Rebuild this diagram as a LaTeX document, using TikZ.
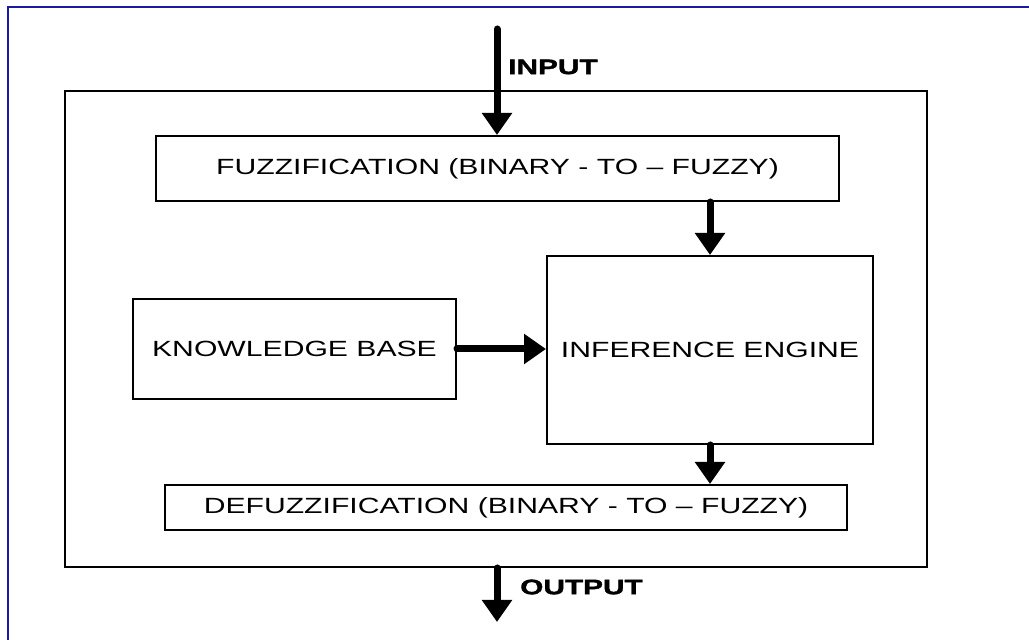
\documentclass[tikz,border=0pt]{standalone}
\usepackage{fontspec}
\usetikzlibrary{arrows.meta}
\newfontfamily\boxfont[FakeStretch=1.37]{Liberation Sans}
\newfontfamily\lblfont[FakeStretch=1.42,FakeBold=1.6]{Liberation Sans Bold}
\definecolor{edgeblue}{RGB}{25,25,165}
\tikzset{
    blk/.style={draw,line width=2pt,inner sep=0pt,
        font=\boxfont\fontsize{22}{26}\selectfont},
    flow/.style={line width=7pt,line cap=round,-{Triangle[width=29pt,length=22pt]}},
    lbl/.style={anchor=west,inner sep=0pt,
        font=\lblfont\fontsize{21}{25}\selectfont}
}
\begin{document}
\begin{tikzpicture}[x=1pt,y=1pt]
        \useasboundingbox (0,0) rectangle (1029,640);
        \draw [edgeblue,line width=2.2pt] (8,0) -- (8,633) -- (1029,633);
        \node [blk,minimum width=862pt,minimum height=476pt] (sys) at (496,311) {};
        \node [blk,minimum width=683pt,minimum height=65pt] (fuzz) at (497.5,471.5)
            {FUZZIFICATION (BINARY - TO – FUZZY)};
        \node [blk,minimum width=323pt,minimum height=100pt] (kb) at (294.5,291)
            {KNOWLEDGE BASE};
        \node [blk,minimum width=326pt,minimum height=188pt] (ie) at (710,290)
            {INFERENCE ENGINE};
        \node [blk,minimum width=682pt,minimum height=45pt] (defuzz) at (506,132.5)
            {DEFUZZIFICATION (BINARY - TO – FUZZY)};
        \coordinate (in) at (497,611);
        \coordinate (out) at (497,18);
        \draw [flow] (in) -- (in |- fuzz.north);
        \draw [flow] (ie.north |- fuzz.south) -- (ie.north);
        \draw [flow] (kb.east) -- (ie.west |- kb.east);
        \draw [flow] (ie.south) -- (ie.south |- defuzz.north);
        \draw [flow] (sys.south -| out) -- (out);
        \node [lbl] (inlbl) at (508,573) {INPUT};
        \node [lbl] (outlbl) at (520,53) {OUTPUT};
    \end{tikzpicture}
\end{document}
